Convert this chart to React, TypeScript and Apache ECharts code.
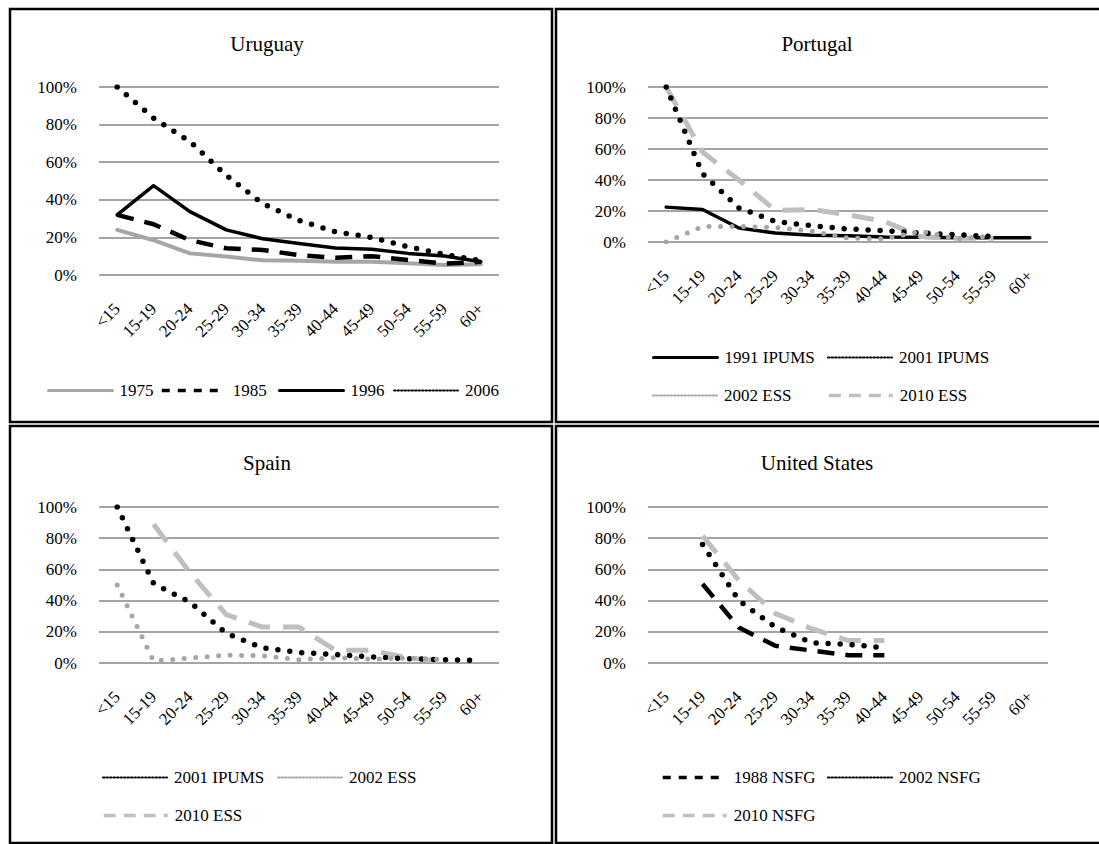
import React, { useEffect, useRef } from "react";
import * as echarts from "echarts";

const ageGroups = ["<15", "15-19", "20-24", "25-29", "30-34", "35-39", "40-44", "45-49", "50-54", "55-59", "60+"];
const yTicks = { min: 0, max: 100, interval: 20 };

// Uruguay
const uruguay1975 = [24, 18.5, 11.5, 9.8, 7.8, 7.6, 7, 7, 6.2, 5.3, 5.7];
const uruguay1985 = [32, 27, 18.5, 14.2, 13.3, 10.6, 9.2, 10, 8, 6, 7];
const uruguay1996 = [32, 47.5, 33.7, 24, 19.3, 16.8, 14.4, 13.7, 11.5, 10.1, 7];
const uruguay2006 = [100, 83.5, 71, 53, 38, 29, 23, 20, 15, 11, 7.6];

// Portugal
const portugal1991 = [22.5, 21, 9, 5.8, 4.3, 4, 3.2, 3, 2.8, 2.8, 2.8];
const portugal2001 = [100, 44, 22, 13.3, 10.5, 8.4, 7.3, 5.8, 4.7, 3.5, null];
const portugal2002 = [0, 10, 10, 9.4, 7, 2.6, 2, 7, 2, 4, null];
const portugal2010 = [100, 58, 40, 20.4, 21, 17.6, 13.3, 3.6, 2.4, 2.4, null];

// Spain
const spain2001 = [100, 51, 39, 19, 9.7, 6.7, 5.4, 3.9, 2.8, 2.1, 1.7];
const spain2002 = [50, 1.3, 3.2, 5, 4.7, 2.1, 3.4, 2.4, 3.2, 2.1, null];
const spain2010 = [null, 89, 58, 31, 23, 23, 8.2, 8.2, 3.2, 1.3, null];

// United States
const us1988 = [null, 50.6, 22.7, 11, 8, 5, 5, null, null, null, null];
const us2002 = [null, 76, 40, 23, 13, 12, 9.7, null, null, null, null];
const us2010 = [null, 81.5, 53, 31.8, 22, 14.5, 14.5, null, null, null, null];

const panelTitles = ["Uruguay", "Portugal", "Spain", "United States"];

const FONT = "'Liberation Serif', 'Times New Roman', serif";

const styles: Record<string, any> = {
  solidGray: { color: "#a6a6a6", width: 4, type: "solid", cap: "round" },
  dashedBlack: { color: "#000000", width: 4.5, type: [17, 11], cap: "butt" },
  solidBlack: { color: "#000000", width: 3.5, type: "solid", cap: "round" },
  dottedBlack: { color: "#000000", width: 5.5, type: [0, 12], cap: "round" },
  dottedGray: { color: "#a6a6a6", width: 5, type: [0, 11.5], cap: "round" },
  dashedGray: { color: "#bfbfbf", width: 5, type: [22, 13], cap: "butt" },
};

const legendStyles: Record<string, any> = {
  solidGray: { type: "solid", width: 3 },
  dashedBlack: { type: [8, 8], width: 3.5 },
  solidBlack: { type: "solid", width: 3 },
  dottedBlack: { type: [1.5, 2], width: 2 },
  dottedGray: { type: [1.5, 2], width: 2 },
  dashedGray: { type: [12, 8], width: 3.5 },
};

const grids = [
  { left: 99, top: 87, width: 400, height: 188 },
  { left: 648, top: 87, width: 400, height: 155 },
  { left: 99, top: 507, width: 400, height: 156 },
  { left: 648, top: 507, width: 400, height: 156 },
];

const titlePos = [
  { x: 267, y: 33 },
  { x: 817, y: 33 },
  { x: 267, y: 452 },
  { x: 817, y: 452 },
];

const seriesDefs = [
  { panel: 0, name: "1975", data: uruguay1975, style: "solidGray" },
  { panel: 0, name: "1985", data: uruguay1985, style: "dashedBlack" },
  { panel: 0, name: "1996", data: uruguay1996, style: "solidBlack" },
  { panel: 0, name: "2006", data: uruguay2006, style: "dottedBlack" },
  { panel: 1, name: "1991 IPUMS", data: portugal1991, style: "solidBlack" },
  { panel: 1, name: "2001 IPUMS", data: portugal2001, style: "dottedBlack" },
  { panel: 1, name: "2002 ESS", data: portugal2002, style: "dottedGray" },
  { panel: 1, name: "2010 ESS", data: portugal2010, style: "dashedGray" },
  { panel: 2, name: "2001 IPUMS", data: spain2001, style: "dottedBlack" },
  { panel: 2, name: "2002 ESS", data: spain2002, style: "dottedGray" },
  { panel: 2, name: "2010 ESS", data: spain2010, style: "dashedGray" },
  { panel: 3, name: "1988 NSFG", data: us1988, style: "dashedBlack" },
  { panel: 3, name: "2002 NSFG", data: us2002, style: "dottedBlack" },
  { panel: 3, name: "2010 NSFG", data: us2010, style: "dashedGray" },
];

const legendDefs = [
  { name: "1975", style: "solidGray", left: 47, y: 391 },
  { name: "1985", style: "dashedBlack", left: 160, y: 391 },
  { name: "1996", style: "solidBlack", left: 278, y: 391 },
  { name: "2006", style: "dottedBlack", left: 393, y: 391 },
  { name: "1991 IPUMS", style: "solidBlack", left: 652, y: 358 },
  { name: "2001 IPUMS", style: "dottedBlack", left: 827, y: 358 },
  { name: "2002 ESS", style: "dottedGray", left: 652, y: 396 },
  { name: "2010 ESS", style: "dashedGray", left: 827, y: 396 },
  { name: "2001 IPUMS", style: "dottedBlack", left: 102, y: 778 },
  { name: "2002 ESS", style: "dottedGray", left: 277, y: 778 },
  { name: "2010 ESS", style: "dashedGray", left: 102, y: 816 },
  { name: "1988 NSFG", style: "dashedBlack", left: 661, y: 778 },
  { name: "2002 NSFG", style: "dottedBlack", left: 827, y: 778 },
  { name: "2010 NSFG", style: "dashedGray", left: 661, y: 816 },
];

export default function App() {
  const ref = useRef<HTMLDivElement>(null);

  useEffect(() => {
    if (!ref.current) return;
    const chart = echarts.init(ref.current, undefined, { renderer: "svg" });

    const option: any = {
      animation: false,
      backgroundColor: "#ffffff",
      textStyle: { fontFamily: FONT },
      title: panelTitles.map((t, i) => ({
        text: t,
        left: titlePos[i].x,
        top: titlePos[i].y,
        textAlign: "center",
        padding: 0,
        textStyle: { fontFamily: FONT, fontSize: 21, fontWeight: "normal", color: "#000" },
      })),
      grid: grids.map((g) => ({ ...g, containLabel: false })),
      xAxis: grids.map((_, i) => ({
        type: "category",
        gridIndex: i,
        data: ageGroups,
        boundaryGap: true,
        axisLine: { show: false },
        axisTick: { show: false },
        splitLine: { show: false },
        axisLabel: {
          rotate: 45,
          interval: 0,
          margin: 31,
          fontSize: 17,
          fontFamily: FONT,
          color: "#000",
        },
      })),
      yAxis: grids.map((_, i) => ({
        type: "value",
        gridIndex: i,
        min: yTicks.min,
        max: yTicks.max,
        interval: yTicks.interval,
        axisLine: { show: false },
        axisTick: { show: false },
        splitLine: { show: true, lineStyle: { color: "#868686", width: 1.6 } },
        axisLabel: {
          formatter: "{value}%",
          margin: 22,
          fontSize: 17,
          fontFamily: FONT,
          color: "#000",
        },
      })),
      legend: legendDefs.map((l) => ({
        data: [l.name],
        left: l.left,
        top: l.y - 9,
        padding: 0,
        itemWidth: 64,
        itemHeight: 18,
        itemGap: 0,
        selectedMode: false,
        orient: "horizontal",
        textStyle: { fontSize: 17, fontFamily: FONT, color: "#000", padding: [0, 0, 0, 2] },
        lineStyle: legendStyles[l.style],
        itemStyle: { opacity: 0 },
      })),
      series: seriesDefs.map((s) => {
        const st = styles[s.style];
        return {
          type: "line",
          name: s.name,
          xAxisIndex: s.panel,
          yAxisIndex: s.panel,
          data: s.data,
          symbol: "none",
          connectNulls: false,
          itemStyle: { color: st.color },
          lineStyle: { color: st.color, width: st.width, type: st.type, cap: st.cap, join: "round" },
          z: s.style.startsWith("dotted") ? 4 : 3,
        };
      }),
      graphic: [
        { type: "rect", shape: { x: 10, y: 9, width: 542, height: 413 }, style: { fill: "none", stroke: "#000", lineWidth: 2.5 } },
        { type: "rect", shape: { x: 556, y: 9, width: 560, height: 413 }, style: { fill: "none", stroke: "#000", lineWidth: 2.5 } },
        { type: "rect", shape: { x: 10, y: 426, width: 542, height: 417 }, style: { fill: "none", stroke: "#000", lineWidth: 2.5 } },
        { type: "rect", shape: { x: 556, y: 426, width: 560, height: 417 }, style: { fill: "none", stroke: "#000", lineWidth: 2.5 } },
      ],
    };

    chart.setOption(option);
    return () => chart.dispose();
  }, []);

  return (
    <div
      ref={ref}
      style={{ position: "absolute", left: 0, top: 0, width: 1099, height: 844, background: "#fff" }}
    />
  );
}
